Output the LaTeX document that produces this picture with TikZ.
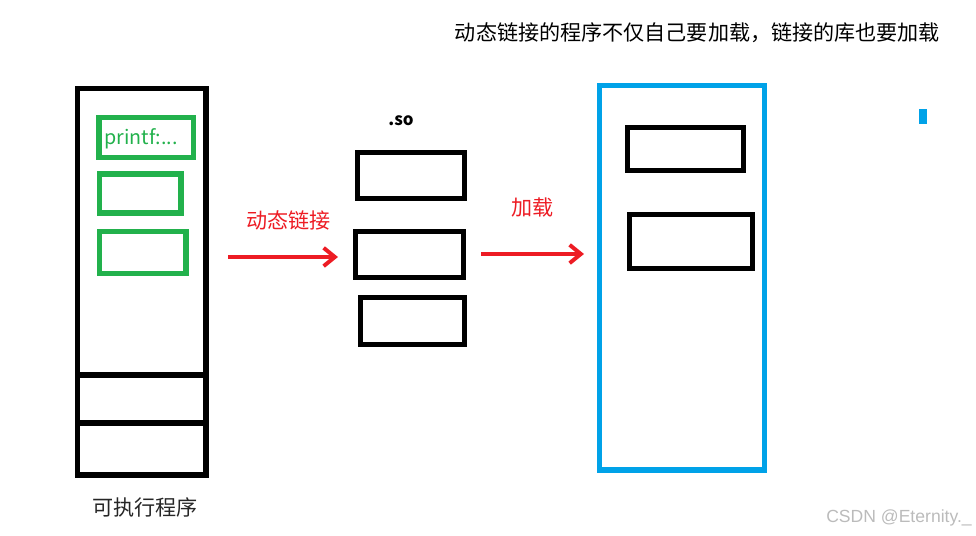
\documentclass[tikz,border=0pt]{standalone}
\usepackage{fontspec}
\setmainfont{Noto Sans CJK SC}
\newfontfamily\wmfont{Liberation Sans}
\usetikzlibrary{arrows.meta}
\definecolor{pgreen}{HTML}{22B14C}
\definecolor{pred}{HTML}{ED1C24}
\definecolor{pblue}{HTML}{00A2E8}
\definecolor{wmgray}{HTML}{BBBBBB}

\begin{document}
\begin{tikzpicture}[x=0.025cm, y=-0.025cm, font=\fontsize{15pt}{18pt}\selectfont,
	wh/.style 2 args={minimum width=#1*0.025cm, minimum height=#2*0.025cm, inner sep=0pt, outer sep=0pt},
	blkbox/.style={draw=black, line width=3.6pt},
	grnbox/.style={draw=pgreen, line width=3.6pt},
	blubox/.style={draw=pblue, line width=3.6pt},
	redarrow/.style={draw=pred, line width=2.8pt, -{Straight Barb[length=8pt, width=13pt]}}]
		\useasboundingbox (0,0) rectangle (976,536);

		\node (title) at (697.5, 33) {动态链接的程序不仅自己要加载，链接的库也要加载};

		\node[blkbox, wh={128.5}{386.5}] (exe) at (141.75, 281.75) {};
		\coordinate (cut1) at (0, 375);
		\coordinate (cut2) at (0, 423);
		\draw[line width=3.6pt] (exe.west |- cut1) -- (exe.east |- cut1);
		\draw[line width=3.6pt] (exe.west |- cut2) -- (exe.east |- cut2);
		\node[grnbox, wh={94.5}{40}] (g1) at (146.25, 137.5) {};
		\node[grnbox, wh={81.5}{39}] (g2) at (140.25, 193.5) {};
		\node[grnbox, wh={86.5}{42}] (g3) at (142.75, 252.5) {};
		\node[text=pgreen, font=\fontsize{14pt}{17pt}\selectfont] (pf) at (141, 139) {printf:...};
		\node[text=black!85] (exelbl) at (145, 507) {可执行程序};

		\node[font=\fontsize{12pt}{14pt}\selectfont\bfseries] (so) at (401, 121) {.so};
		\node[blkbox, wh={107}{46}] (so1) at (411, 175.5) {};
		\node[blkbox, wh={108}{46}] (so2) at (409.5, 254.5) {};
		\node[blkbox, wh={104}{47}] (so3) at (412.5, 321) {};

		\node[blubox, wh={165}{384.5}] (mem) at (682, 277.75) {};
		\node[blkbox, wh={116}{43}] (m1) at (685.5, 149) {};
		\node[blkbox, wh={123}{54}] (m2) at (691, 241.5) {};
		\node[fill=pblue, wh={8}{15}] (mark) at (923, 116.5) {};

		\node[text=pred] (lnk) at (288.5, 220) {动态链接};
		\node[text=pred] (load) at (532.5, 208) {加载};
		\coordinate (lnkA) at (228, 257);
		\coordinate (lnkB) at (338, 257);
		\coordinate (loadA) at (481, 254);
		\coordinate (loadB) at (584, 254);
		\path (lnkA) edge[redarrow] (lnkB)
		(loadA) edge[redarrow] (loadB);

		\node[text=wmgray, font=\wmfont\fontsize{12.5pt}{15pt}\selectfont] (wm) at (899, 518) {CSDN @Eternity.\_};

	\end{tikzpicture}
\end{document}
